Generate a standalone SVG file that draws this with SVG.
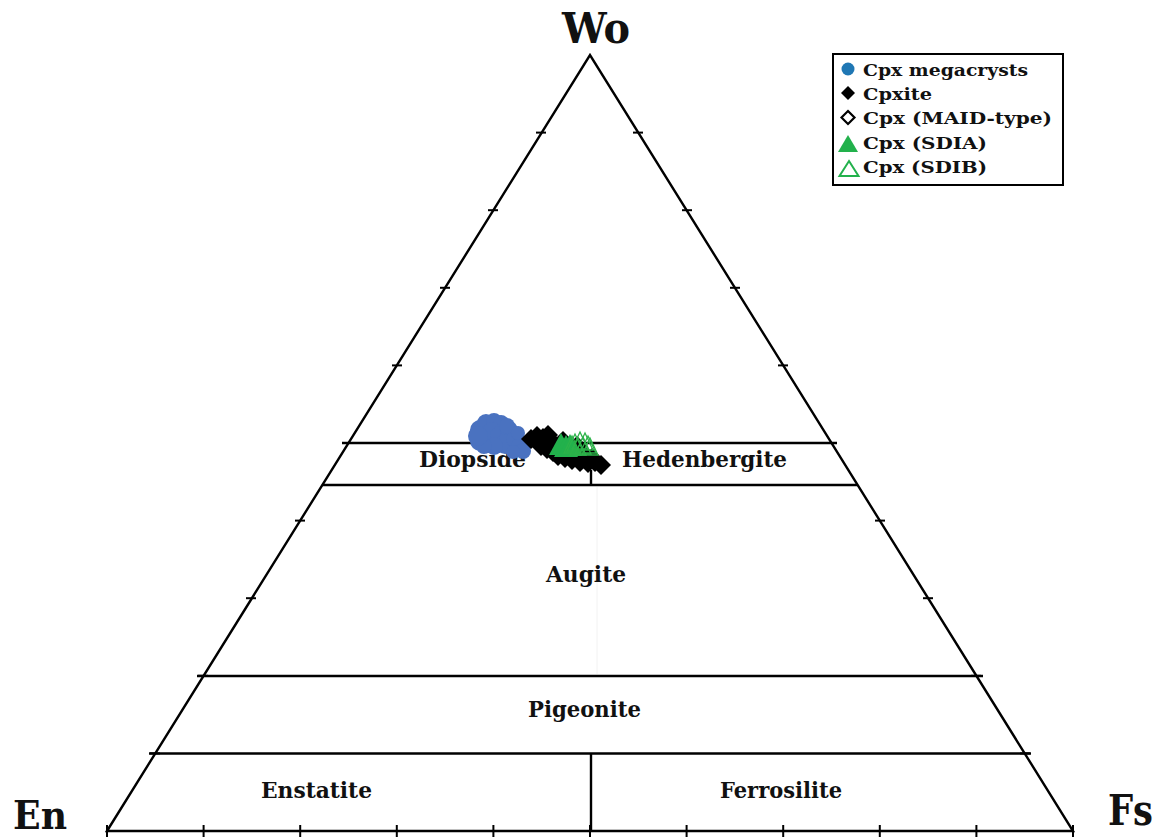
<svg xmlns="http://www.w3.org/2000/svg" width="1161" height="839" viewBox="0 0 1161 839">
<style>
.ln{stroke:#000;stroke-width:2.4;fill:none;stroke-linecap:butt}
.tk{stroke:#000;stroke-width:2;fill:none}
.lbl{font-family:"DejaVu Serif","Liberation Serif",serif;font-weight:bold;fill:#111}
.ax{font-size:42px}
.reg{font-size:22px}
.leg{font-size:17px}
.blue{fill:#4a72c0}
.dia{fill:#000}
.gf{fill:#22b14c}
.go{fill:none;stroke:#2db34a;stroke-width:1.3}
</style>
<rect width="1161" height="839" fill="#fff"/>
<g id="frame">
<path class="ln" d="M107,831 L590,55 L1073,831 Z" stroke-linejoin="miter"/>
</g>
<g id="connectors">
<line class="ln" x1="342" y1="443" x2="837" y2="443"/>
<line class="ln" x1="322.4" y1="485" x2="857.6" y2="485"/>
<line class="ln" x1="197" y1="676" x2="983" y2="676"/>
<line class="ln" x1="149" y1="753.5" x2="1031" y2="753.5"/>
<line class="ln" x1="591" y1="470" x2="591" y2="485"/>
<line class="ln" x1="591" y1="753.5" x2="591" y2="831"/>
<line x1="597" y1="487" x2="597" y2="674" stroke="#f2f2f2" stroke-width="1"/>
</g>
<g id="ticks" class="tk">
<line x1="150" y1="753.4" x2="160" y2="753.4"/>
<line x1="198" y1="675.8" x2="208" y2="675.8"/>
<line x1="246" y1="598.2" x2="256" y2="598.2"/>
<line x1="295" y1="520.6" x2="305" y2="520.6"/>
<line x1="343" y1="443" x2="353" y2="443"/>
<line x1="392" y1="365.4" x2="402" y2="365.4"/>
<line x1="440" y1="287.8" x2="450" y2="287.8"/>
<line x1="488" y1="210.2" x2="498" y2="210.2"/>
<line x1="536" y1="132.6" x2="546" y2="132.6"/>
<line x1="1020" y1="753.4" x2="1030" y2="753.4"/>
<line x1="971" y1="675.8" x2="981" y2="675.8"/>
<line x1="923" y1="598.2" x2="933" y2="598.2"/>
<line x1="875" y1="520.6" x2="885" y2="520.6"/>
<line x1="826" y1="443" x2="836" y2="443"/>
<line x1="778" y1="365.4" x2="788" y2="365.4"/>
<line x1="730" y1="287.8" x2="740" y2="287.8"/>
<line x1="682" y1="210.2" x2="692" y2="210.2"/>
<line x1="633" y1="132.6" x2="643" y2="132.6"/>
<line x1="107" y1="825" x2="107" y2="837"/>
<line x1="203.6" y1="825" x2="203.6" y2="837"/>
<line x1="300.2" y1="825" x2="300.2" y2="837"/>
<line x1="396.8" y1="825" x2="396.8" y2="837"/>
<line x1="493.4" y1="825" x2="493.4" y2="837"/>
<line x1="590" y1="825" x2="590" y2="837"/>
<line x1="686.6" y1="825" x2="686.6" y2="837"/>
<line x1="783.2" y1="825" x2="783.2" y2="837"/>
<line x1="879.8" y1="825" x2="879.8" y2="837"/>
<line x1="976.4" y1="825" x2="976.4" y2="837"/>
<line x1="1073" y1="825" x2="1073" y2="837"/>
</g>
<g id="axis-labels" class="lbl ax">
<text x="562" y="43" textLength="68" lengthAdjust="spacingAndGlyphs">Wo</text>
<text x="13" y="829" font-size="40" textLength="54" lengthAdjust="spacingAndGlyphs">En</text>
<text x="1108" y="825" textLength="45" lengthAdjust="spacingAndGlyphs">Fs</text>
</g>
<g id="regions" class="lbl reg">
<text id="diopside" x="419" y="467" textLength="107" lengthAdjust="spacingAndGlyphs">Diopside</text>
<text id="hedenbergite" x="622" y="467" textLength="165" lengthAdjust="spacingAndGlyphs">Hedenbergite</text>
<text id="augite" x="546" y="582" textLength="80" lengthAdjust="spacingAndGlyphs">Augite</text>
<text id="pigeonite" x="528" y="717" textLength="113" lengthAdjust="spacingAndGlyphs">Pigeonite</text>
<text id="enstatite" x="261" y="798" textLength="111" lengthAdjust="spacingAndGlyphs">Enstatite</text>
<text id="ferrosilite" x="720" y="798" textLength="122" lengthAdjust="spacingAndGlyphs">Ferrosilite</text>
</g>
<g id="data">
<g id="megacrysts" class="blue">
<circle cx="480" cy="430" r="10"/><circle cx="480" cy="441" r="10"/><circle cx="486" cy="423" r="9"/>
<circle cx="494" cy="421" r="8"/><circle cx="501" cy="423" r="8"/><circle cx="492" cy="432" r="10"/>
<circle cx="500" cy="436" r="10"/><circle cx="509" cy="430" r="9"/><circle cx="505" cy="444" r="10"/>
<circle cx="494" cy="446" r="9"/><circle cx="484" cy="446" r="8"/><circle cx="515" cy="439" r="9"/>
<circle cx="520" cy="446" r="9"/><circle cx="523" cy="451" r="8"/><circle cx="513" cy="452" r="7"/>
<circle cx="478" cy="436" r="10"/><circle cx="507" cy="426" r="8"/><circle cx="518" cy="433" r="7"/>
</g>
<g id="cpxite" class="dia">
<path d="M531,429l10,10l-10,10l-10,-10z"/><path d="M537,426l10,10l-10,10l-10,-10z"/><path d="M543,428l10,10l-10,10l-10,-10z"/>
<path d="M548,425l10,10l-10,10l-10,-10z"/><path d="M541,436l10,10l-10,10l-10,-10z"/><path d="M547,439l10,10l-10,10l-10,-10z"/>
<path d="M553,442l10,10l-10,10l-10,-10z"/><path d="M558,446l10,10l-10,10l-10,-10z"/><path d="M565,448l10,10l-10,10l-10,-10z"/>
<path d="M572,450l10,10l-10,10l-10,-10z"/><path d="M580,452l10,10l-10,10l-10,-10z"/><path d="M588,453l10,10l-10,10l-10,-10z"/>
<path d="M595,452l10,10l-10,10l-10,-10z"/><path d="M601,455l10,10l-10,10l-10,-10z"/><path d="M555,435l10,10l-10,10l-10,-10z"/>
<path d="M560,438l10,10l-10,10l-10,-10z"/><path d="M568,442l10,10l-10,10l-10,-10z"/><path d="M575,445l10,10l-10,10l-10,-10z"/>
<path d="M585,446l10,10l-10,10l-10,-10z"/><path d="M592,448l10,10l-10,10l-10,-10z"/><path d="M563,431l10,10l-10,10l-10,-10z"/>
<path d="M577,436l10,10l-10,10l-10,-10z"/>
</g>
<g id="sdia" class="gf">
<path d="M561,433l12,22h-24z"/><path d="M566,435l12,22h-24z"/><path d="M570,434l12,22h-24z"/>
</g>
<g id="sdib" class="go">
<path d="M572,436l8,17h-16z"/><path d="M575,434l8,17h-16z"/><path d="M580,432l8,17h-16z"/>
<path d="M585,433l8,17h-16z"/><path d="M588,436l8,17h-16z"/><path d="M578,438l8,17h-16z"/>
<path d="M583,437l8,17h-16z"/><path d="M590,438l8,17h-16z"/>
</g>
</g>
<g id="legend">
<rect x="833" y="54" width="230" height="131" fill="#fff" stroke="#000" stroke-width="2"/>
<circle cx="848" cy="69" r="6.5" fill="#1f77b4"/>
<path d="M848,86l7,7l-7,7l-7,-7z" fill="#000"/>
<path d="M848,111l6.5,6.5l-6.5,6.5l-6.5,-6.5z" fill="#fff" stroke="#000" stroke-width="2.2"/>
<path d="M848,135l10,17h-20z" fill="#22b14c"/>
<path d="M849,161l9.5,15h-19z" fill="none" stroke="#22b14c" stroke-width="2"/>
<g class="lbl leg">
<text x="863" y="76" textLength="165" lengthAdjust="spacingAndGlyphs">Cpx megacrysts</text>
<text x="863" y="100" textLength="69" lengthAdjust="spacingAndGlyphs">Cpxite</text>
<text x="863" y="124" textLength="189" lengthAdjust="spacingAndGlyphs">Cpx (MAID-type)</text>
<text x="863" y="149" textLength="124" lengthAdjust="spacingAndGlyphs">Cpx (SDIA)</text>
<text x="863" y="173" textLength="124" lengthAdjust="spacingAndGlyphs">Cpx (SDIB)</text>
</g>
</g>
</svg>
